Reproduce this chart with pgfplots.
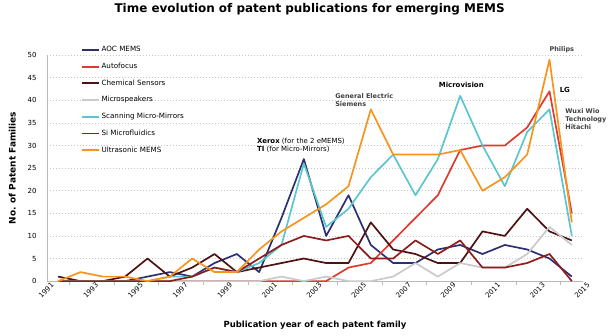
\documentclass[border=0pt]{standalone}
\usepackage{pgfplots}
\pgfplotsset{compat=1.18}
\usepackage{fontspec}
\setmainfont{DejaVu Sans}
\definecolor{cnavy}{HTML}{2E2F72}
\definecolor{cred}{HTML}{E03A2E}
\definecolor{cchem}{HTML}{4E1212}
\definecolor{cgray}{HTML}{CACACA}
\definecolor{ccyan}{HTML}{5CC6D0}
\definecolor{csi}{HTML}{8E1E1E}
\definecolor{corange}{HTML}{F7941D}
\begin{document}
\begin{tikzpicture}
\path (-47bp,-54bp) rectangle (568bp,278bp);
\begin{axis}[
  scale only axis, width=536bp, height=226bp,
  xmin=1991, xmax=2015, ymin=0, ymax=50,
  clip=false,
  axis lines*=left,
  axis line style={gray!55, line width=0.9pt},
  xtick={1991,1993,...,2015},
  minor xtick={1992,1994,...,2014},
  xtick pos=bottom, tick align=outside,
  major tick length=0pt, minor tick length=4bp,
  minor tick style={gray!55, line width=0.8pt},
  ytick={0,5,...,50},
  ytick style={draw=none},
  ymajorgrids,
  grid style={dash pattern=on 1.5bp off 1.5bp, gray!45, line width=0.6pt},
  /pgf/number format/assume math mode=true,
  /pgf/number format/set thousands separator={},
  x tick label style={rotate=45, anchor=north east, font=\fontsize{7}{8}\selectfont, inner sep=1bp, xshift=3bp, yshift=-2bp},
  y tick label style={font=\fontsize{7}{8}\selectfont, xshift=-7bp},
  title={Time evolution of patent publications for emerging MEMS},
  title style={font=\bfseries\fontsize{12}{14}\selectfont, at={(axis description cs:0.49,1.177)}, anchor=center},
  xlabel={Publication year of each patent family},
  xlabel style={font=\bfseries\fontsize{8.5}{10}\selectfont, at={(axis description cs:0.5,-0.195)}, anchor=center},
  ylabel={No. of Patent Families},
  ylabel style={font=\bfseries\fontsize{9}{10}\selectfont, at={(axis description cs:-0.065,0.5)}, anchor=center, rotate=0},
  legend style={at={(axis description cs:0.058,1.055)}, anchor=north west, draw=none, fill=none,
    font=\fontsize{7.2}{8}\selectfont, row sep=6.6bp,
    nodes={inner sep=1.5bp, text height=5.5bp, text depth=1.6bp}},
  legend cell align=left,
  legend image code/.code={\draw[#1, line width=1.8pt] (0bp,0bp) -- (17bp,0bp);},
  every axis plot/.append style={line width=1.7pt, line join=round},
]
\addplot[cnavy] coordinates {(1991.5,0)(1992.5,0)(1993.5,0)(1994.5,0)(1995.5,1)(1996.5,2)(1997.5,1)(1998.5,4)(1999.5,6)(2000.5,2)(2001.5,14)(2002.5,27)(2003.5,10)(2004.5,19)(2005.5,8)(2006.5,4)(2007.5,4)(2008.5,7)(2009.5,8)(2010.5,6)(2011.5,8)(2012.5,7)(2013.5,5)(2014.5,1)};
\addlegendentry{AOC MEMS}
\addplot[cred] coordinates {(1991.5,0)(1992.5,0)(1993.5,0)(1994.5,0)(1995.5,0)(1996.5,0)(1997.5,0)(1998.5,0)(1999.5,0)(2000.5,0)(2001.5,0)(2002.5,0)(2003.5,0)(2004.5,3)(2005.5,4)(2006.5,9)(2007.5,14)(2008.5,19)(2009.5,29)(2010.5,30)(2011.5,30)(2012.5,34)(2013.5,42)(2014.5,15)};
\addlegendentry{Autofocus}
\addplot[cchem] coordinates {(1991.5,1)(1992.5,0)(1993.5,0)(1994.5,1)(1995.5,5)(1996.5,1)(1997.5,3)(1998.5,6)(1999.5,2)(2000.5,3)(2001.5,4)(2002.5,5)(2003.5,4)(2004.5,4)(2005.5,13)(2006.5,7)(2007.5,6)(2008.5,4)(2009.5,4)(2010.5,11)(2011.5,10)(2012.5,16)(2013.5,11)(2014.5,9)};
\addlegendentry{Chemical Sensors}
\addplot[cgray] coordinates {(1991.5,0)(1992.5,0)(1993.5,0)(1994.5,0)(1995.5,0)(1996.5,0)(1997.5,0)(1998.5,0)(1999.5,0)(2000.5,0)(2001.5,1)(2002.5,0)(2003.5,1)(2004.5,0)(2005.5,0)(2006.5,1)(2007.5,4)(2008.5,1)(2009.5,4)(2010.5,3)(2011.5,3)(2012.5,6)(2013.5,12)(2014.5,8)};
\addlegendentry{Microspeakers}
\addplot[ccyan] coordinates {(1991.5,0)(1992.5,0)(1993.5,0)(1994.5,0)(1995.5,0)(1996.5,1)(1997.5,1)(1998.5,3)(1999.5,2)(2000.5,4)(2001.5,8)(2002.5,26)(2003.5,12)(2004.5,16)(2005.5,23)(2006.5,28)(2007.5,19)(2008.5,27)(2009.5,41)(2010.5,30)(2011.5,21)(2012.5,33)(2013.5,38)(2014.5,10)};
\addlegendentry{Scanning Micro-Mirrors}
\addplot[csi] coordinates {(1991.5,0)(1992.5,0)(1993.5,0)(1994.5,0)(1995.5,0)(1996.5,0)(1997.5,1)(1998.5,3)(1999.5,2)(2000.5,5)(2001.5,8)(2002.5,10)(2003.5,9)(2004.5,10)(2005.5,5)(2006.5,5)(2007.5,9)(2008.5,6)(2009.5,9)(2010.5,3)(2011.5,3)(2012.5,4)(2013.5,6)(2014.5,0)};
\addlegendentry{Si Microfluidics}
\addplot[corange] coordinates {(1991.5,0)(1992.5,2)(1993.5,1)(1994.5,1)(1995.5,0)(1996.5,1)(1997.5,5)(1998.5,2)(1999.5,2)(2000.5,7)(2001.5,11)(2002.5,14)(2003.5,17)(2004.5,21)(2005.5,38)(2006.5,28)(2007.5,28)(2008.5,28)(2009.5,29)(2010.5,20)(2011.5,23)(2012.5,28)(2013.5,49)(2014.5,13)};
\addlegendentry{Ultrasonic MEMS}
\node[anchor=west, align=left, font=\fontsize{7}{8.5}\selectfont, inner sep=0pt] at (axis cs:2000.4,30.1) {\textbf{Xerox} (for the 2 eMEMS)\\\textbf{TI} (for Micro-Mirrors)};
\node[anchor=west, align=left, font=\bfseries\fontsize{6.5}{8}\selectfont, inner sep=0pt, text=black!75] at (axis cs:2003.9,40.1) {General Electric\\Siemens};
\node[anchor=center, font=\bfseries\fontsize{7}{8}\selectfont, inner sep=0pt] at (axis cs:2009.55,43.4) {Microvision};
\node[anchor=center, font=\bfseries\fontsize{6.5}{8}\selectfont, inner sep=0pt, text=black!75] at (axis cs:2014.05,51.3) {Philips};
\node[anchor=west, font=\bfseries\fontsize{7}{8}\selectfont, inner sep=0pt] at (axis cs:2013.95,42.3) {LG};
\node[anchor=west, align=left, font=\bfseries\fontsize{6.5}{8.2}\selectfont, inner sep=0pt, text=black!75] at (axis cs:2014.2,35.8) {Wuxi Wio\\Technology\\Hitachi};
\end{axis}
\end{tikzpicture}
\end{document}
